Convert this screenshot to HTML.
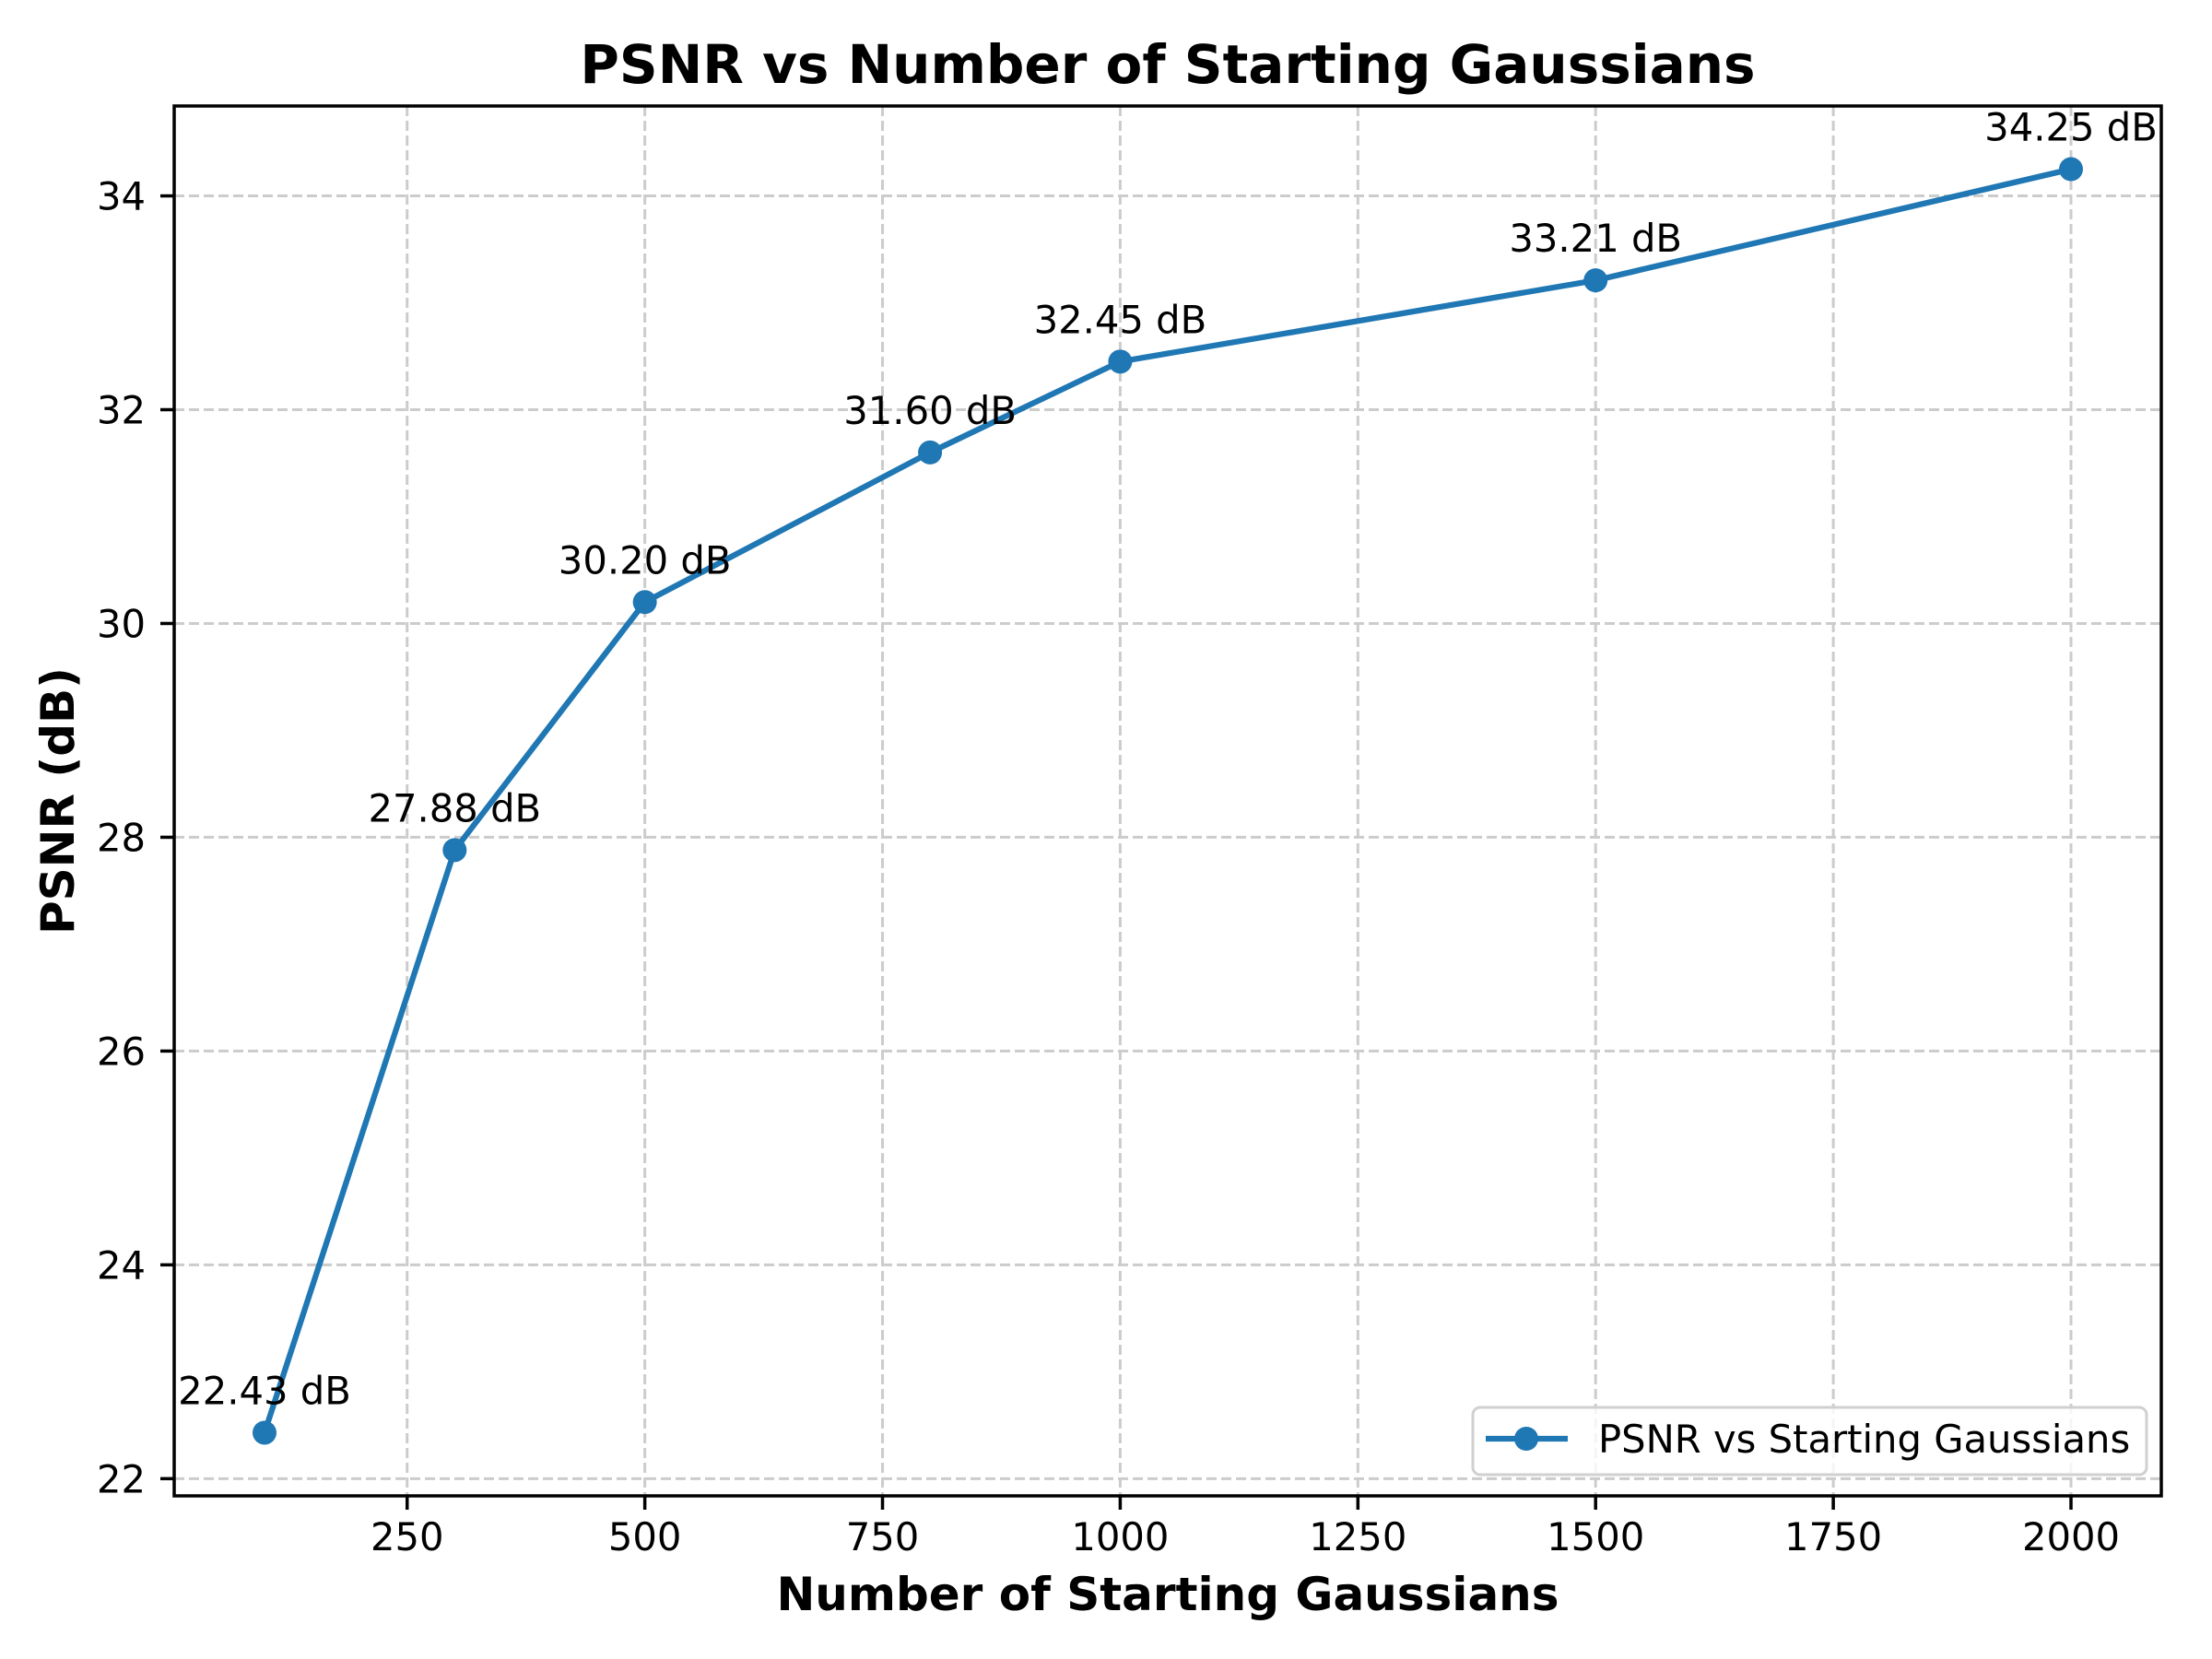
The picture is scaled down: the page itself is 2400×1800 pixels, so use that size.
<!DOCTYPE html>
<html><head><meta charset="utf-8"><style>
html,body{margin:0;padding:0;background:#fff;}
svg{display:block;font-family:"DejaVu Sans","Liberation Sans",sans-serif;}
</style></head><body>
<svg id="chart" width="2400" height="1800" viewBox="0 0 2400 1800" xmlns="http://www.w3.org/2000/svg">
<rect width="2400" height="1800" fill="#fff"/>
<g id="grid"></g>
<g id="series"></g>
<g id="axes"></g>
<text x="1267" y="90" text-anchor="middle" font-size="58" font-weight="bold">PSNR vs Number of Starting Gaussians</text>
<text x="1267" y="1747" text-anchor="middle" font-size="50" font-weight="bold">Number of Starting Gaussians</text>
<text transform="translate(80,869) rotate(-90)" text-anchor="middle" font-size="50" font-weight="bold">PSNR (dB)</text>
<g>
<rect x="1598" y="1527" width="731" height="73" rx="8" fill="#fff" fill-opacity="0.8" stroke="#d0d0d0" stroke-width="3"/>
<line x1="1612" y1="1561" x2="1701" y2="1561" stroke="#1f77b4" stroke-width="6.25"/>
<circle cx="1656" cy="1561" r="13" fill="#1f77b4"/>
<text x="1734" y="1576" font-size="41.7">PSNR vs Starting Gaussians</text>
</g>
</svg>
<script>
const categories = [100, 300, 500, 800, 1000, 1500, 2000];
const psnrValues = [22.43, 27.88, 30.20, 31.60, 32.45, 33.21, 34.25];
const xTicks = [250, 500, 750, 1000, 1250, 1500, 1750, 2000];
const yTicks = [22, 24, 26, 28, 30, 32, 34];

const NS = 'http://www.w3.org/2000/svg';
const L = 189, R = 2345, T = 115, B = 1623;
const xmin = 5, xmax = 2095, ymin = 21.839, ymax = 34.841;
function xs(v){ return L + (v - xmin) / (xmax - xmin) * (R - L); }
function ys(v){ return B - (v - ymin) / (ymax - ymin) * (B - T); }
function mk(tag, attrs, parent){
  const e = document.createElementNS(NS, tag);
  for (const k in attrs) e.setAttribute(k, attrs[k]);
  parent.appendChild(e);
  return e;
}
const grid = document.getElementById('grid');
const axes = document.getElementById('axes');
const series = document.getElementById('series');

xTicks.forEach(function(t){
  const x = xs(t);
  const g = mk('line', {x1:x, y1:T, x2:x, y2:B, stroke:'#cccccc', 'stroke-width':3, 'stroke-dasharray':'11 5'}, grid);
  
  
  const tk = mk('line', {x1:x, y1:B, x2:x, y2:B+15, stroke:'#000', 'stroke-width':3.5}, axes);
  
  
  const lb = mk('text', {x:x, y:1682, 'text-anchor':'middle', 'font-size':41.7}, axes);
  lb.textContent = String(t);
  
  
});
yTicks.forEach(function(t){
  const y = ys(t);
  const g = mk('line', {x1:L, y1:y, x2:R, y2:y, stroke:'#cccccc', 'stroke-width':3, 'stroke-dasharray':'11 5'}, grid);
  
  
  const tk = mk('line', {x1:L-15, y1:y, x2:L, y2:y, stroke:'#000', 'stroke-width':3.5}, axes);
  
  
  const lb = mk('text', {x:158, y:y+15, 'text-anchor':'end', 'font-size':41.7}, axes);
  lb.textContent = String(t);
  
  
});
const frame = mk('rect', {x:L, y:T, width:R-L, height:B-T, fill:'none', stroke:'#000', 'stroke-width':3.5}, axes);



const pts = categories.map(function(c, i){ return xs(c) + ',' + ys(psnrValues[i]); }).join(' ');
const line = mk('polyline', {points:pts, fill:'none', stroke:'#1f77b4', 'stroke-width':6.25, 'stroke-linejoin':'round'}, series);


categories.forEach(function(c, i){
  const cx = xs(c), cy = ys(psnrValues[i]);
  const p = mk('circle', {cx:cx, cy:cy, r:13, fill:'#1f77b4'}, series);
  
  
  const lb = mk('text', {x:cx, y:cy-31, 'text-anchor':'middle', 'font-size':41.7}, series);
  lb.textContent = psnrValues[i].toFixed(2) + ' dB';
  
  
});
</script>
</body></html>
